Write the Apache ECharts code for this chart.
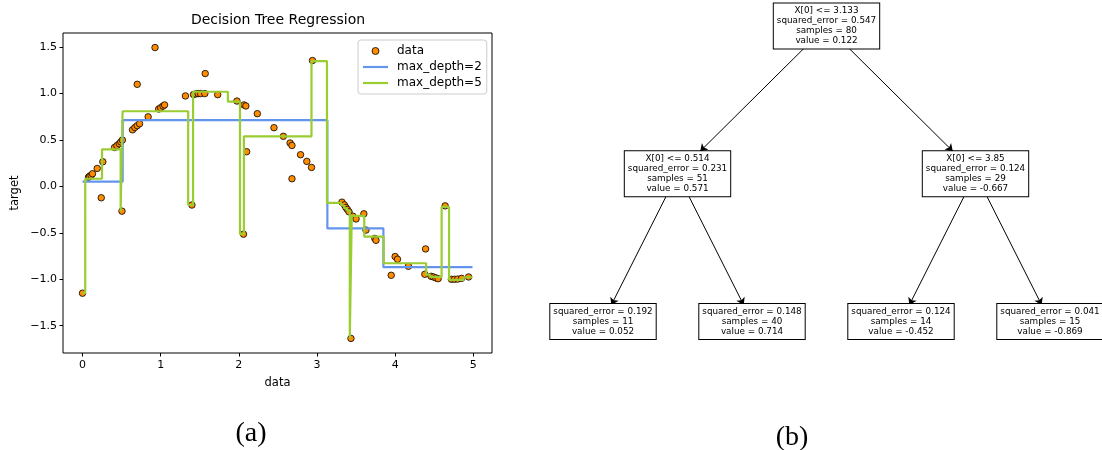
<!DOCTYPE html>
<html><head><meta charset="utf-8">
<script src="https://cdn.jsdelivr.net/npm/echarts@6/dist/echarts.min.js"></script>
<style>html,body{margin:0;padding:0;background:#fff}#c{width:1102px;height:450px}</style>
</head><body><div id="c"></div>
<script>
// ---- scatter data ----
const dataX = [0.00,0.077,0.09,0.11,0.128,0.188,0.24,0.26,0.41,0.44,0.47,0.49,0.51,0.505,0.64,0.67,0.70,0.73,0.70,0.84,0.928,0.975,1.00,1.03,1.05,1.317,1.40,1.42,1.45,1.48,1.51,1.565,1.57,1.73,1.976,2.066,2.09,2.06,2.10,2.237,2.45,2.57,2.656,2.68,2.68,2.79,2.87,2.93,2.943,3.32,3.35,3.37,3.39,3.41,3.435,3.46,3.50,3.60,3.627,3.74,3.755,3.95,4.00,4.03,4.17,4.39,4.38,4.46,4.49,4.52,4.55,4.64,4.72,4.76,4.80,4.85,4.94];
const dataY = [-1.15,0.10,0.11,0.12,0.137,0.194,-0.122,0.266,0.42,0.44,0.46,0.48,0.50,-0.266,0.61,0.635,0.655,0.676,1.10,0.75,1.496,0.834,0.848,0.866,0.878,0.975,-0.20,0.99,0.997,1.0,1.0,1.0,1.216,0.989,0.92,0.878,0.867,-0.514,0.374,0.784,0.633,0.54,0.468,0.442,0.083,0.342,0.27,0.205,1.356,-0.169,-0.198,-0.227,-0.248,-0.273,-1.637,-0.32,-0.35,-0.295,-0.47,-0.56,-0.58,-0.957,-0.755,-0.784,-0.86,-0.673,-0.946,-0.968,-0.975,-0.985,-0.993,-0.209,-1.0,-1.0,-0.998,-0.99,-0.975];

// ---- regression step predictions ----
const depth2Starts = [0, 0.514, 3.133, 3.85];
const depth2Values = [0.052, 0.714, -0.452, -0.869];
const depth5Starts = [0, 0.035, 0.25, 0.488, 0.513, 1.352, 1.415, 1.86, 2.015, 2.065, 2.93, 3.128, 3.31, 3.35, 3.385, 3.42, 3.445, 3.605, 3.854, 4.397, 4.45, 4.595, 4.69, 4.875];
const depth5Values = [-1.15, 0.083, 0.40, -0.266, 0.81, -0.20, 1.02, 0.913, -0.514, 0.54, 1.349, -0.176, -0.205, -0.235, -0.26, -1.637, -0.317, -0.54, -0.827, -0.95, -0.975, -0.22, -1.007, -0.978];
const xEnd = 4.99;

// ---- ticks ----
const xTickValues = [0, 1, 2, 3, 4, 5];
const yTickValues = [-1.5, -1.0, -0.5, 0.0, 0.5, 1.0, 1.5];

// ---- tree ----
const treeLabels = [
  'X[0] <= 3.133\nsquared_error = 0.547\nsamples = 80\nvalue = 0.122',
  'X[0] <= 0.514\nsquared_error = 0.231\nsamples = 51\nvalue = 0.571',
  'X[0] <= 3.85\nsquared_error = 0.124\nsamples = 29\nvalue = -0.667',
  'squared_error = 0.192\nsamples = 11\nvalue = 0.052',
  'squared_error = 0.148\nsamples = 40\nvalue = 0.714',
  'squared_error = 0.124\nsamples = 14\nvalue = -0.452',
  'squared_error = 0.041\nsamples = 15\nvalue = -0.869'
];
const treeParents = [-1, 0, 0, 1, 1, 2, 2];

function stepData(starts, values) {
  const d = starts.map((s, i) => [s, values[i]]);
  d.push([xEnd, values[values.length - 1]]);
  return d;
}
const children = treeLabels.map(() => []);
treeParents.forEach((p, i) => { if (p >= 0) children[p].push(i); });
const depth = treeParents.map((p) => { let d = 0, q = p; while (q >= 0) { d++; q = treeParents[q]; } return d; });
const pos = [];
let leafCounter = 0;
function place(i) {
  if (children[i].length === 0) { pos[i] = leafCounter++; }
  else { children[i].forEach(place); pos[i] = children[i].reduce((a, c) => a + pos[c], 0) / children[i].length; }
}
place(0);
const clipSize = [40, 64, 37];

const fmtY = v => (v < 0 ? '\u2212' : '') + Math.abs(v).toFixed(1);
const FONT = 'DejaVu Sans';
const lineIcon = 'path://M0,0L25,0L25,2.2L0,2.2Z';

const chart = echarts.init(document.getElementById('c'), null, {renderer: 'canvas'});
chart.setOption({
  animation: false,
  backgroundColor: '#fff',
  textStyle: {fontFamily: FONT},
  grid: [
    {left: 63, top: 33, width: 429, height: 320, show: true, borderColor: '#000', borderWidth: 1, backgroundColor: 'transparent', containLabel: false},
    {left: 603, top: 26, width: 447, height: 295.5, show: false, containLabel: false}
  ],
  xAxis: [
    {type: 'value', gridIndex: 0, min: -0.2495, max: 5.2395, position: 'bottom',
     name: 'data', nameLocation: 'middle', nameGap: 24,
     nameTextStyle: {fontSize: 11.5, color: '#000', fontFamily: FONT},
     axisLine: {show: false, onZero: false}, splitLine: {show: false},
     axisTick: {show: true, inside: false, length: 3.5, lineStyle: {color: '#000', width: 1}, customValues: xTickValues},
     axisLabel: {fontSize: 11, color: '#000', margin: 7, fontFamily: FONT, customValues: xTickValues, formatter: v => String(Math.round(v))}},
    {type: 'value', gridIndex: 1, min: 0, max: 3, show: false}
  ],
  yAxis: [
    {type: 'value', gridIndex: 0, min: -1.794, max: 1.653, position: 'left',
     name: 'target', nameLocation: 'middle', nameGap: 42, nameRotate: 90,
     nameTextStyle: {fontSize: 11.5, color: '#000', fontFamily: FONT},
     axisLine: {show: false, onZero: false}, splitLine: {show: false},
     axisTick: {show: true, inside: false, length: 3.5, lineStyle: {color: '#000', width: 1}, customValues: yTickValues},
     axisLabel: {fontSize: 11, color: '#000', margin: 6, fontFamily: FONT, customValues: yTickValues, formatter: fmtY}},
    {type: 'value', gridIndex: 1, min: 0, max: 2, inverse: true, show: false}
  ],
  legend: {
    orient: 'vertical', left: 358, top: 40, itemWidth: 25, itemHeight: 7, itemGap: 4,
    padding: [5, 5, 5, 5], borderColor: '#cccccc', borderWidth: 1, borderRadius: 3,
    backgroundColor: 'rgba(255,255,255,0.8)',
    textStyle: {fontSize: 12, color: '#000', fontFamily: FONT, padding: [0, 0, 0, 4]},
    data: [
      {name: 'data', icon: 'circle', itemStyle: {color: '#FF8C00', borderColor: '#000', borderWidth: 0.8}},
      {name: 'max_depth=2', icon: lineIcon, itemStyle: {color: '#6495ED', borderWidth: 0}},
      {name: 'max_depth=5', icon: lineIcon, itemStyle: {color: '#9ACD32', borderWidth: 0}}
    ],
    selectedMode: false
  },
  graphic: [
    {type: 'text', x: 278, y: 20, style: {text: 'Decision Tree Regression', font: '14px "DejaVu Sans"', fill: '#000', align: 'center', verticalAlign: 'middle'}},
    {type: 'text', x: 251, y: 434, style: {text: '(a)', font: '28px "Liberation Serif"', fill: '#000', align: 'center', verticalAlign: 'middle'}},
    {type: 'text', x: 792, y: 438, style: {text: '(b)', font: '28px "Liberation Serif"', fill: '#000', align: 'center', verticalAlign: 'middle'}}
  ],
  series: [
    {name: 'data', type: 'scatter', xAxisIndex: 0, yAxisIndex: 0, z: 2,
     data: dataX.map((x, i) => [x, dataY[i]]), symbol: 'circle', symbolSize: 6.5,
     itemStyle: {color: '#FF8C00', borderColor: '#000', borderWidth: 0.8, opacity: 1}},
    {name: 'max_depth=2', type: 'line', xAxisIndex: 0, yAxisIndex: 0, z: 3, step: 'end',
     data: stepData(depth2Starts, depth2Values), symbol: 'none', showSymbol: false,
     lineStyle: {color: '#6495ED', width: 2.2}, itemStyle: {color: '#6495ED'}},
    {name: 'max_depth=5', type: 'line', xAxisIndex: 0, yAxisIndex: 0, z: 4, step: 'end',
     data: stepData(depth5Starts, depth5Values), symbol: 'none', showSymbol: false,
     lineStyle: {color: '#9ACD32', width: 2.2}, itemStyle: {color: '#9ACD32'}},
    {name: 'tree', type: 'graph', coordinateSystem: 'cartesian2d', xAxisIndex: 1, yAxisIndex: 1, z: 5,
     symbol: 'rect',
     data: treeLabels.map((t, i) => ({name: t, value: [pos[i], depth[i]], symbolSize: clipSize[depth[i]]})),
     links: treeParents.map((p, i) => p >= 0 ? {source: p, target: i} : null).filter(Boolean),
     edgeSymbol: ['none', 'arrow'], edgeSymbolSize: [0, 7],
     itemStyle: {color: 'rgba(0,0,0,0)', borderWidth: 0},
     lineStyle: {color: '#000', width: 1, opacity: 1, curveness: 0},
     label: {show: true, position: 'inside', fontSize: 8.8, lineHeight: 10, color: '#000', fontFamily: FONT,
             backgroundColor: '#fff', borderColor: '#000', borderWidth: 1, padding: [3, 3, 2, 3], align: 'center'},
     emphasis: {disabled: true}, silent: true}
  ]
});
</script></body></html>
